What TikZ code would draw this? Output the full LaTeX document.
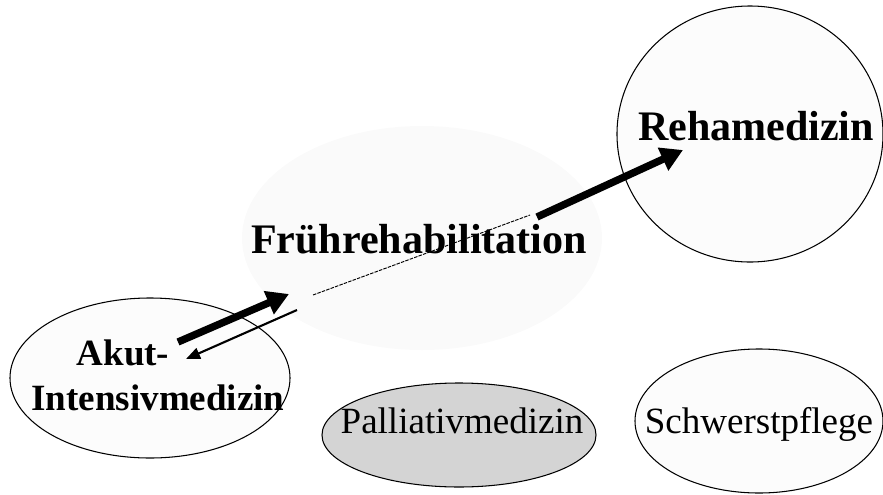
\documentclass[tikz,border=0pt]{standalone}
\usepackage{fontspec}
\setmainfont{Liberation Serif}
\usepackage{xcolor}
\definecolor{bubble}{RGB}{252,252,252}
\definecolor{haze}{RGB}{250,250,250}
\definecolor{palli}{RGB}{212,212,212}
\usepackage{tikz}
\usetikzlibrary{shapes.geometric, arrows.meta, positioning}

\tikzset{
    area/.style={ellipse, draw=black, line width=0.9pt, fill=bubble, inner sep=0pt},
    bigtext/.style={font=\fontsize{35.9}{43}\selectfont\bfseries, anchor=base, inner sep=0pt},
    midtext/.style={font=\fontsize{31.6}{38}\selectfont\bfseries, anchor=base, inner sep=0pt},
    plaintext/.style={font=\fontsize{31.6}{38}\selectfont, anchor=base, inner sep=0pt},
    fatarrow/.style={line width=6.3pt, -{Triangle[length=0.66cm, width=0.72cm]}},
    thinarrow/.style={line width=1.8pt, -{Triangle[length=0.42cm, width=0.34cm]}}
}

\begin{document}
\begin{tikzpicture}[x=0.03cm, y=-0.03cm]
        \useasboundingbox (0,0) rectangle (883,494);

        % Zone Fruehrehabilitation (sans bord)
        \node[ellipse, fill=haze, minimum width=10.8cm, minimum height=6.72cm] (fruh) at (422,238) {};

        % Bereiche
        \node[area, minimum width=7.98cm, minimum height=7.68cm] (reha) at (750,134) {};
        \node[area, minimum width=8.4cm, minimum height=4.8cm] (akut) at (150,378) {};
        \node[area, fill=palli, minimum width=8.22cm, minimum height=3.12cm] (pall) at (459,435) {};
        \node[area, minimum width=7.44cm, minimum height=4.32cm] (schw) at (759,421) {};

        % Beschriftungen
        \node[bigtext] (fruhlabel) at (419,253) {Frührehabilitation};
        \node[bigtext] (rehalabel) at (756,140) {Rehamedizin};
        \node[midtext] (akutlabel) at (123,365) {Akut-};
        \node[midtext] (intlabel) at (158,410) {Intensivmedizin};
        \node[plaintext] (palllabel) at (462,433) {Palliativmedizin};
        \node[plaintext] (schwlabel) at (759,433) {Schwerstpflege};

        % Pfeile
        \coordinate (a1s) at (178,342);
        \coordinate (a1e) at (289,294);
        \coordinate (a2s) at (297,310);
        \coordinate (a2e) at (186,359);
        \coordinate (d1s) at (313,295);
        \coordinate (d1e) at (530,215);
        \coordinate (a3s) at (537,217);
        \coordinate (a3e) at (683,150);

        \draw[fatarrow] (a1s) -- (a1e);
        \draw[thinarrow] (a2s) -- (a2e);
        \draw[line width=0.8pt, dash pattern=on 3pt off 1pt] (d1s) -- (d1e);
        \draw[fatarrow] (a3s) -- (a3e);
    \end{tikzpicture}
\end{document}
